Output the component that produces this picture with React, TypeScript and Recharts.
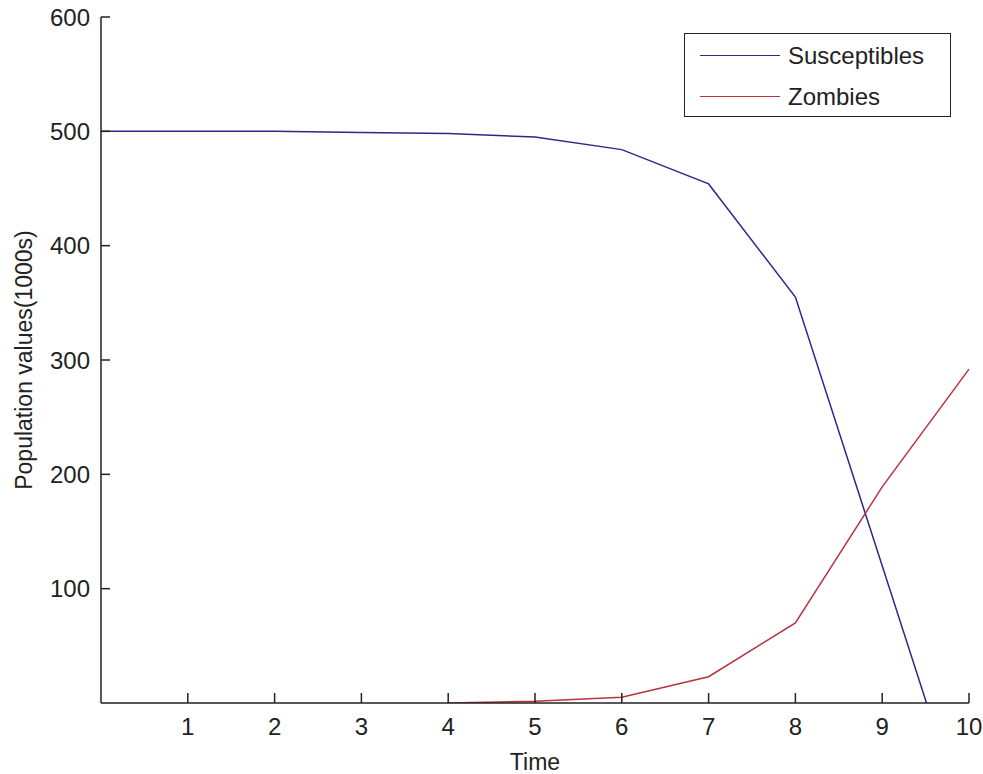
import { Legend, Line, LineChart, XAxis, YAxis } from "recharts";

const times = [0, 1, 2, 3, 4, 5, 6, 7, 8, 9, 10];
const susceptibles = [500, 500, 500, 499, 498, 495, 484, 454, 355, 120, -115];
const zombies = [null, null, null, null, 0, 1.5, 5, 23, 70, 189, 292];
const xTicks = [1, 2, 3, 4, 5, 6, 7, 8, 9, 10];
const yTicks = [100, 200, 300, 400, 500, 600];

const data = times.map((t, i) => ({
  t,
  susceptibles: susceptibles[i],
  zombies: zombies[i],
}));

const FONT = '"Liberation Sans", Arial, sans-serif';
const AXIS = "#222";

function YTick(props: any) {
  const { x, y, payload } = props;
  // x is axis x minus tickMargin (11)
  return (
    <g>
      <line x1={x + 11} y1={y} x2={x + 20} y2={y} stroke={AXIS} strokeWidth={1.5} />
      <text x={x} y={y} dy="0.355em" textAnchor="end" fill={AXIS} fontSize={24} fontFamily={FONT}>
        {payload.value}
      </text>
    </g>
  );
}

function XTick(props: any) {
  const { x, y, payload } = props;
  // y is axis y plus tickMargin (32), text baseline
  return (
    <g>
      <line x1={x} y1={y - 32} x2={x} y2={y - 42} stroke={AXIS} strokeWidth={1.5} />
      <text x={x} y={y} textAnchor="middle" fill={AXIS} fontSize={24} fontFamily={FONT}>
        {payload.value}
      </text>
    </g>
  );
}

function LegendBox(props: any) {
  const { payload = [] } = props;
  return (
    <div
      style={{
        boxSizing: "border-box",
        width: 267,
        height: 84,
        border: "1.5px solid #222",
        background: "#fff",
        padding: "1px 0",
        fontFamily: FONT,
        fontSize: 24,
        color: "#222",
      }}
    >
      {payload.map((p: any) => (
        <div key={p.value} style={{ display: "flex", alignItems: "center", height: 41 }}>
          <span
            style={{
              display: "inline-block",
              width: 80,
              height: 1.5,
              marginLeft: 15,
              marginRight: 8,
              background: p.color,
            }}
          />
          {p.value}
        </div>
      ))}
    </div>
  );
}

export default function App() {
  return (
    <div style={{ position: "absolute", left: 0, top: 0, width: 983, height: 774, background: "#fff" }}>
      <LineChart width={983} height={774} data={data} margin={{ top: 17, right: 14, bottom: 0, left: 0 }}>
        <XAxis
          dataKey="t"
          type="number"
          domain={[0, 10]}
          ticks={xTicks}
          height={71}
          tickLine={false}
          tickSize={0}
          tickMargin={32}
          tick={<XTick />}
          stroke={AXIS}
          strokeWidth={1.5}
          label={{
            value: "Time",
            position: "insideBottom",
            offset: 4,
            fill: AXIS,
            fontSize: 23,
            fontFamily: FONT,
          }}
        />
        <YAxis
          type="number"
          domain={[0, 600]}
          ticks={yTicks}
          allowDataOverflow
          width={101}
          tickLine={false}
          tickSize={0}
          tickMargin={11}
          tick={<YTick />}
          stroke={AXIS}
          strokeWidth={1.5}
          label={{
            value: "Population values(1000s)",
            angle: -90,
            position: "insideLeft",
            offset: 24,
            fill: AXIS,
            fontSize: 23,
            fontFamily: FONT,
            style: { textAnchor: "middle" },
          }}
        />
        <Legend
          layout="vertical"
          align="center"
          verticalAlign="middle"
          wrapperStyle={{ left: 684, top: 33, width: 267, height: 84 }}
          content={<LegendBox />}
        />
        <Line
          name="Susceptibles"
          dataKey="susceptibles"
          type="linear"
          stroke="#2a2a8a"
          strokeWidth={1.5}
          dot={false}
          activeDot={false}
          isAnimationActive={false}
        />
        <Line
          name="Zombies"
          dataKey="zombies"
          type="linear"
          stroke="#b8333f"
          strokeWidth={1.5}
          dot={false}
          activeDot={false}
          isAnimationActive={false}
        />
      </LineChart>
    </div>
  );
}
